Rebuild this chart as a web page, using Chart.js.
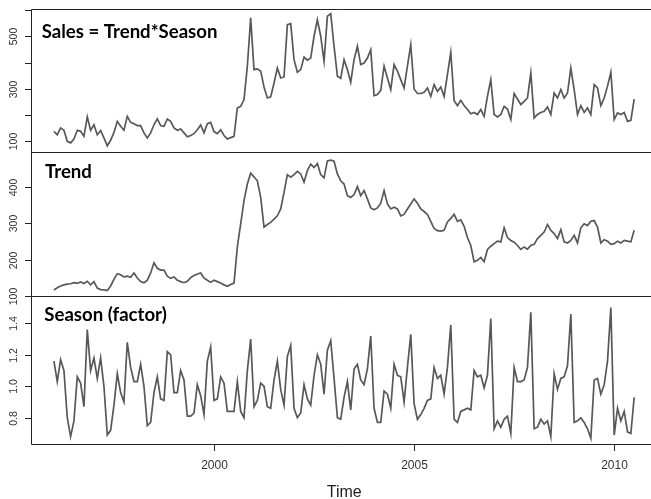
<!DOCTYPE html>
<html>
<head>
<meta charset="UTF-8">
<title>Sales = Trend*Season</title>
<script src="https://cdn.jsdelivr.net/npm/chart.js"></script>
<style>
  html, body { margin: 0; padding: 0; background: #fff; overflow: hidden; }
  #wrap { position: relative; width: 651px; height: 499px; }
  #wrap canvas { position: absolute; left: 0; top: 0; }
</style>
</head>
<body>
<div id="wrap">
  <canvas id="c1" width="651" height="499"></canvas>
  <canvas id="c2" width="651" height="499"></canvas>
  <canvas id="c3" width="651" height="499"></canvas>
</div>
<script>
// monthly series, Jan 1996 .. Jul 2010
const startYear = 1996;

const sales = [
  138,125,151,142,100,94,109,142,138,119,
  193,142,163,125,141,113,83,104,134,176,
  157,142,195,172,167,160,160,132,113,132,
  163,186,160,157,185,176,151,142,147,132,
  117,122,129,144,162,132,167,172,137,129,
  144,122,109,114,119,227,233,259,386,570,
  373,376,367,307,265,269,322,379,341,345,
  544,548,411,363,373,421,409,417,500,563,
  500,405,576,586,462,348,340,411,373,325,
  411,462,392,398,417,449,274,278,294,386,
  341,297,392,367,335,303,386,468,299,282,
  282,287,303,271,316,290,307,271,354,439,
  255,236,256,236,221,205,210,202,221,195,
  271,335,202,193,202,233,223,183,282,261,
  240,252,265,360,189,202,210,214,231,202,
  284,265,297,265,284,379,297,202,236,210,
  227,202,316,303,236,265,310,363,183,208,
  202,210,176,180,261
];

const trend = [
  116,122,127,130,132,133,136,134,138,134,
  140,130,139,121,117,116,114,127,145,161,
  158,152,154,151,163,149,139,136,143,163,
  191,176,171,171,154,148,152,143,139,136,
  140,150,156,160,163,149,143,137,143,139,
  135,130,126,131,135,235,299,363,409,439,
  429,418,372,290,297,303,312,321,340,386,
  435,428,435,444,437,414,446,464,455,466,
  435,426,473,475,472,437,418,409,377,372,
  380,402,377,391,368,343,338,343,356,391,
  354,340,345,340,321,325,340,354,368,356,
  340,333,325,306,286,280,279,281,304,314,
  325,306,310,292,261,239,194,198,206,194,
  228,237,244,251,249,288,261,253,248,239,
  228,235,229,239,242,258,267,276,297,281,
  272,258,283,249,246,253,267,246,288,299,
  294,306,308,290,246,255,251,242,244,251,
  246,253,251,249,281
];

const season = [
  1.16,1.03,1.17,1.10,0.80,0.68,0.78,1.06,1.02,0.87,
  1.36,1.10,1.18,1.05,1.18,1.00,0.69,0.72,0.88,1.08,
  0.96,0.90,1.28,1.12,1.03,1.03,1.14,1.00,0.75,0.77,
  0.96,1.06,0.92,0.91,1.22,1.20,0.96,0.96,1.10,1.04,
  0.81,0.81,0.83,1.01,0.94,0.82,1.16,1.25,0.91,0.92,
  1.06,1.02,0.84,0.84,0.84,1.03,0.84,0.80,1.10,1.30,
  0.87,0.91,1.02,1.00,0.87,0.86,1.04,1.16,0.98,0.88,
  1.19,1.26,0.86,0.80,0.83,1.01,0.92,0.88,1.07,1.20,
  1.14,0.95,1.23,1.29,1.05,0.80,0.79,0.93,1.03,0.85,
  1.11,1.14,1.04,1.01,1.11,1.32,0.86,0.77,0.77,0.97,
  0.95,0.86,1.14,1.07,1.06,0.90,1.12,1.33,0.89,0.79,
  0.82,0.86,0.91,0.92,1.12,1.05,1.07,0.95,1.12,1.39,
  0.79,0.77,0.84,0.85,0.86,0.85,1.10,1.06,1.07,0.99,
  1.07,1.43,0.73,0.78,0.74,0.79,0.81,0.70,1.12,1.03,
  1.03,1.04,1.12,1.47,0.73,0.74,0.79,0.76,0.78,0.68,
  1.08,0.98,1.05,1.06,1.13,1.46,0.77,0.78,0.80,0.77,
  0.73,0.67,1.04,1.05,0.95,1.01,1.16,1.50,0.69,0.86,
  0.78,0.84,0.71,0.70,0.93
];

const salesTicks = [100, 200, 300, 400, 500, 600];
const salesTickLabels = ['100', '', '300', '', '500', ''];
const trendTicks = [100, 200, 300, 400];
const trendTickLabels = ['100', '200', '300', '400'];
const seasonTicks = [0.8, 1.0, 1.2, 1.4];
const seasonTickLabels = ['0.8', '1.0', '1.2', '1.4'];
const yearTicks = [2000, 2005, 2010];
const yearTickLabels = ['2000', '2005', '2010'];

const xMin = 1995.427, xMax = 2010.92;
const lineColor = '#585858';
const H = 499;

function decor(cfg) {
  return {
    id: 'decor',
    afterDatasetsDraw(chart) {
      const ctx = chart.ctx, a = chart.chartArea;
      const x = chart.scales.x, y = chart.scales.y;
      ctx.save();
      ctx.strokeStyle = '#222';
      ctx.lineWidth = 1;
      ctx.beginPath();
      ctx.moveTo(chart.width + 2, a.top + 0.5);
      ctx.lineTo(a.left + 0.5, a.top + 0.5);
      ctx.lineTo(a.left + 0.5, a.bottom + 0.5);
      ctx.lineTo(chart.width + 2, a.bottom + 0.5);
      ctx.stroke();

      // y axis: ticks and rotated labels
      ctx.fillStyle = '#333';
      ctx.font = '10.5px "Liberation Sans", Arial, sans-serif';
      ctx.textAlign = 'center';
      ctx.textBaseline = 'alphabetic';
      cfg.ticks.forEach((v, k) => {
        const py = Math.round(y.getPixelForValue(v)) + 0.5;
        ctx.beginPath();
        ctx.moveTo(a.left - 6, py);
        ctx.lineTo(a.left, py);
        ctx.stroke();
        if (cfg.labels[k]) {
          ctx.save();
          ctx.translate(16.7, py);
          ctx.rotate(-Math.PI / 2);
          ctx.fillText(cfg.labels[k], 0, 0);
          ctx.restore();
        }
      });

      // x axis only under the last panel
      if (cfg.xAxis) {
        ctx.font = '12px "Liberation Sans", Arial, sans-serif';
        yearTicks.forEach((v, k) => {
          const px = Math.round(x.getPixelForValue(v)) + 0.5;
          ctx.beginPath();
          ctx.moveTo(px, a.bottom);
          ctx.lineTo(px, a.bottom + 7);
          ctx.stroke();
          ctx.fillText(yearTickLabels[k], px, 469);
        });
        ctx.fillStyle = '#222';
        ctx.font = '16px "Liberation Sans", Arial, sans-serif';
        ctx.fillText('Time', (a.left + x.getPixelForValue(2011.08)) / 2, 497);
      }

      // panel title
      ctx.fillStyle = '#000';
      ctx.font = 'bold 18.6px Lato, "Open Sans", sans-serif';
      ctx.textAlign = 'left';
      ctx.fillText(cfg.title, cfg.tx, cfg.ty);
      ctx.restore();
    }
  };
}

function panel(id, values, cfg) {
  const pts = values.map((v, i) => ({ x: startYear + i / 12, y: v }));
  return new Chart(document.getElementById(id), {
    type: 'line',
    data: {
      datasets: [{
        data: pts,
        borderColor: lineColor,
        borderWidth: 1.7,
        pointRadius: 0,
        tension: 0,
        fill: false
      }]
    },
    options: {
      responsive: false,
      animation: false,
      events: [],
      layout: { padding: { left: 31, right: 0, top: cfg.top, bottom: H - cfg.bottom } },
      plugins: { legend: { display: false }, tooltip: { enabled: false } },
      scales: {
        x: { type: 'linear', display: false, min: xMin, max: xMax },
        y: { type: 'linear', display: false, min: cfg.min, max: cfg.max }
      }
    },
    plugins: [decor(cfg)]
  });
}

panel('c1', sales, {
  top: 9, bottom: 152, min: 59.3, max: 603.8,
  ticks: salesTicks, labels: salesTickLabels,
  title: 'Sales = Trend*Season', tx: 41.7, ty: 37.5
});
panel('c2', trend, {
  top: 152, bottom: 296, min: 99.2, max: 497.7,
  ticks: trendTicks, labels: trendTickLabels,
  title: 'Trend', tx: 45, ty: 177.5
});
panel('c3', season, {
  top: 296, bottom: 444, min: 0.633, max: 1.574,
  ticks: seasonTicks, labels: seasonTickLabels,
  title: 'Season (factor)', tx: 44.3, ty: 320.7, xAxis: true
});
</script>
</body>
</html>
